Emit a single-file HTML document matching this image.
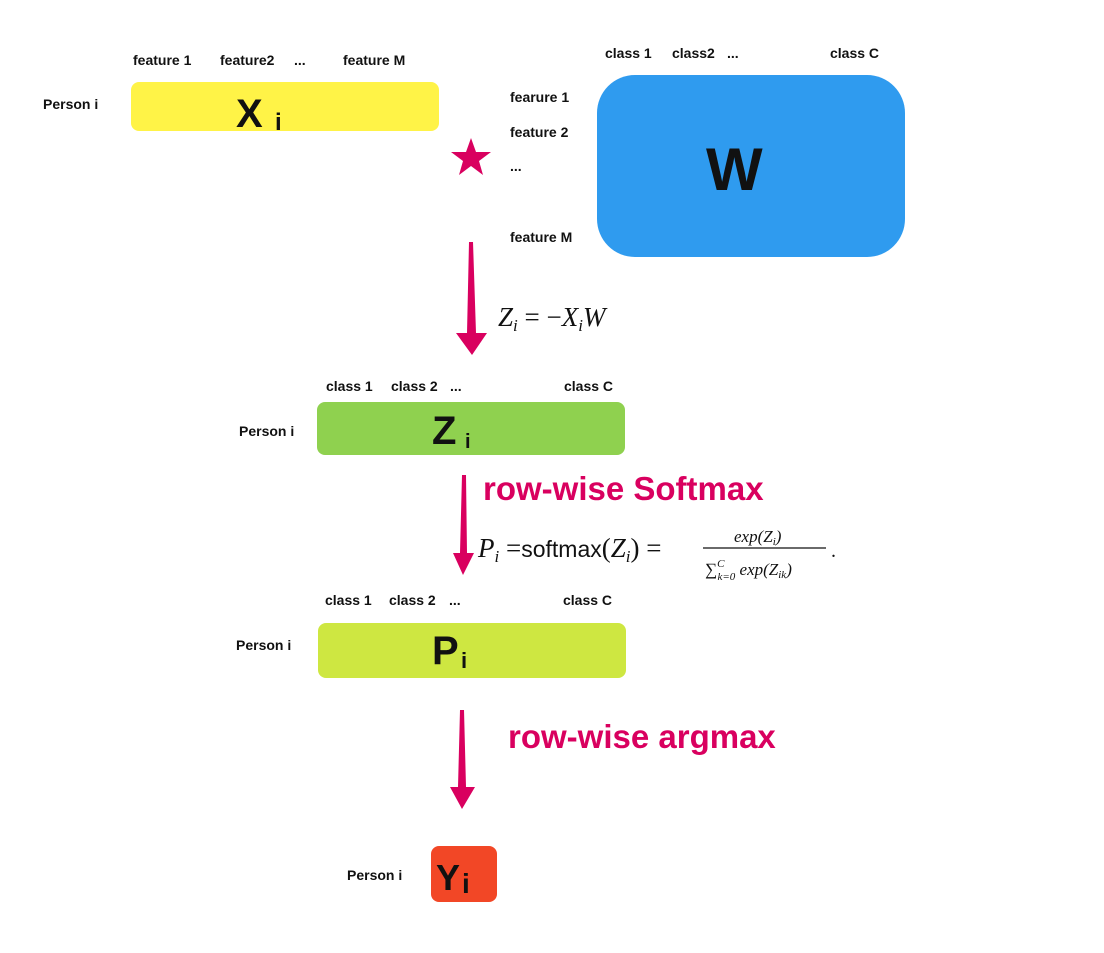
<!DOCTYPE html>
<html><head><meta charset="utf-8"><style>
body{margin:0;background:#fff;}
svg{display:block}
.b{font-family:"Liberation Sans",sans-serif;font-weight:bold;fill:#111;}
.m{font-family:"Liberation Serif",serif;font-style:italic;fill:#111;}
</style></head><body>
<svg width="1104" height="953" viewBox="0 0 1104 953" xmlns="http://www.w3.org/2000/svg">
<!-- X row -->
<text class="b" x="133" y="65" font-size="14">feature 1</text>
<text class="b" x="220" y="65" font-size="14">feature2</text>
<text class="b" x="294" y="65" font-size="14">...</text>
<text class="b" x="343" y="65" font-size="14">feature M</text>
<text class="b" x="43" y="109" font-size="14">Person  i</text>
<rect x="131" y="82" width="308" height="49" rx="8" fill="#FFF347"/>
<text class="b" x="236" y="127" font-size="40">X</text>
<text class="b" x="275" y="130" font-size="24">i</text>
<!-- star -->
<polygon points="471,138 476,152 491,152 479,161 483,175 471,166 459,175 463,161 451,152 466,152" fill="#D9005F"/>
<!-- W -->
<text class="b" x="605" y="58" font-size="14">class 1</text>
<text class="b" x="672" y="58" font-size="14">class2</text>
<text class="b" x="727" y="58" font-size="14">...</text>
<text class="b" x="830" y="58" font-size="14">class C</text>
<text class="b" x="510" y="102" font-size="14">fearure  1</text>
<text class="b" x="510" y="137" font-size="14">feature  2</text>
<text class="b" x="510" y="171" font-size="14">...</text>
<text class="b" x="510" y="242" font-size="14">feature  M</text>
<rect x="597" y="75" width="308" height="182" rx="38" fill="#2F9BEF"/>
<text class="b" x="706" y="190" font-size="60">W</text>
<!-- arrow 1 -->
<polygon points="469,242 473,242 476,333 487,333 472,355 456,333 467,333" fill="#D9005F"/>
<text class="m" x="498" y="326" font-size="27">Z<tspan font-size="17" dy="5">i</tspan><tspan dy="-5" font-style="normal"> = −</tspan>X<tspan font-size="17" dy="5">i</tspan><tspan dy="-5">W</tspan></text>
<!-- Z row -->
<text class="b" x="326" y="391" font-size="14">class 1</text>
<text class="b" x="391" y="391" font-size="14">class 2</text>
<text class="b" x="450" y="391" font-size="14">...</text>
<text class="b" x="564" y="391" font-size="14">class C</text>
<text class="b" x="239" y="436" font-size="14">Person  i</text>
<rect x="317" y="402" width="308" height="53" rx="8" fill="#8FD14F"/>
<text class="b" x="432" y="444" font-size="40">Z</text>
<text class="b" x="465" y="448" font-size="20">i</text>
<!-- arrow 2 -->
<polygon points="462,475 466,475 467,553 474,553 463,575 453,553 460,553" fill="#D9005F"/>
<text x="483" y="500" font-family="Liberation Sans,sans-serif" font-weight="bold" font-size="33" fill="#D9005F">row-wise Softmax</text>
<text class="m" x="478" y="557" font-size="27">P<tspan font-size="17" dy="5">i</tspan><tspan dy="-5" font-style="normal"> =</tspan><tspan font-style="normal" font-family="Liberation Sans,sans-serif" font-size="23">softmax</tspan><tspan font-style="normal">(</tspan>Z<tspan font-size="17" dy="5">i</tspan><tspan dy="-5" font-style="normal">) =</tspan></text>
<text class="m" x="734" y="542" font-size="17">exp(Z<tspan font-size="11" dy="3">i</tspan><tspan dy="-3">)</tspan></text>
<line x1="703" y1="548" x2="826" y2="548" stroke="#111" stroke-width="1.3"/>
<text class="m" x="705" y="575" font-size="17"><tspan font-style="normal">∑</tspan><tspan font-size="11" dy="-8">C</tspan><tspan font-size="11" dx="-7" dy="13">k=0</tspan><tspan dy="-5"> exp(Z</tspan><tspan font-size="11" dy="3">ik</tspan><tspan dy="-3">)</tspan></text>
<text x="831" y="557" font-size="20" fill="#111">.</text>
<!-- P row -->
<text class="b" x="325" y="605" font-size="14">class 1</text>
<text class="b" x="389" y="605" font-size="14">class 2</text>
<text class="b" x="449" y="605" font-size="14">...</text>
<text class="b" x="563" y="605" font-size="14">class C</text>
<text class="b" x="236" y="650" font-size="14">Person  i</text>
<rect x="318" y="623" width="308" height="55" rx="8" fill="#CEE741"/>
<text class="b" x="432" y="664" font-size="40">P</text>
<text class="b" x="461" y="668" font-size="22">i</text>
<!-- arrow 3 -->
<polygon points="460,710 464,710 466,787 475,787 462,809 450,787 458,787" fill="#D9005F"/>
<text x="508" y="748" font-family="Liberation Sans,sans-serif" font-weight="bold" font-size="33" fill="#D9005F">row-wise argmax</text>
<!-- Y -->
<text class="b" x="347" y="880" font-size="14">Person  i</text>
<rect x="431" y="846" width="66" height="56" rx="8" fill="#F24726"/>
<text class="b" x="436" y="890" font-size="36">Y</text>
<text class="b" x="462" y="893" font-size="28">i</text>
</svg>
</body></html>
